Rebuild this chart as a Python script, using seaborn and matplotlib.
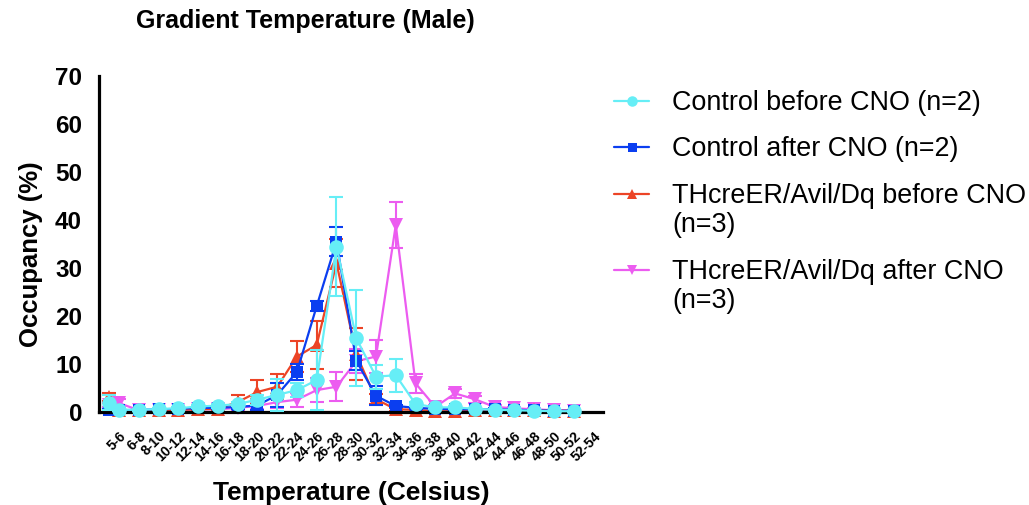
import numpy as np
import pandas as pd
import matplotlib
matplotlib.use("Agg")
import matplotlib.pyplot as plt
import seaborn as sns
from matplotlib.lines import Line2D

# ---------------- data ----------------
temp_labels = ["5-6", "6-8", "8-10", "10-12", "12-14", "14-16", "16-18", "18-20",
               "20-22", "22-24", "24-26", "26-28", "28-30", "30-32", "32-34", "34-36",
               "36-38", "38-40", "40-42", "42-44", "44-46", "46-48", "48-50", "50-52",
               "52-54"]

series_names = ["Control before CNO (n=2)", "Control after CNO (n=2)",
                "THcreER/Avil/Dq before CNO\n(n=3)", "THcreER/Avil/Dq after CNO\n(n=3)"]

ctrl_before_mean = [1.9, 0.4, 0.4, 0.55, 0.7, 1.1, 1.25, 1.6, 2.5, 3.5, 4.5, 6.6, 34.4,
                    15.3, 7.3, 7.6, 1.6, 0.9, 0.9, 0.6, 0.4, 0.3, 0.2, 0.1, 0.1]
ctrl_before_sem = [1.5, 0.2, 0.2, 0.2, 0.3, 0.3, 0.4, 0.5, 1.0, 3.4, 1.5, 6.2, 10.3,
                   10.0, 2.5, 3.4, 0.5, 0.3, 0.3, 0.2, 0.2, 0.1, 0.1, 0.1, 0.1]

ctrl_after_mean = [0.3, 0.3, 0.4, 0.5, 0.6, 0.8, 0.8, 1.0, 1.3, 3.5, 8.3, 22.0, 35.4,
                   10.6, 3.3, 1.2, 0.8, 0.6, 0.5, 0.5, 0.5, 0.4, 0.3, 0.2, 0.2]
ctrl_after_sem = [0.3, 0.2, 0.2, 0.2, 0.2, 0.3, 0.3, 0.5, 1.0, 2.5, 1.7, 1.0, 3.0,
                  2.0, 2.0, 0.3, 0.2, 0.2, 0.2, 0.2, 0.2, 0.1, 0.1, 0.1, 0.1]

dq_before_mean = [3.0, 0.3, 0.3, 0.3, 0.4, 0.5, 0.6, 2.0, 4.1, 5.2, 11.5, 13.9, 31.0,
                  12.0, 2.6, 0.5, 0.4, 0.1, 0.1, 0.3, 0.3, 0.3, 0.3, 0.2, 0.2]
dq_before_sem = [0.8, 0.2, 0.2, 0.2, 0.3, 0.3, 0.5, 1.5, 2.5, 2.6, 3.2, 5.0, 5.0,
                 5.4, 1.0, 0.3, 0.2, 0.1, 0.1, 0.2, 0.2, 0.1, 0.1, 0.1, 0.1]

dq_after_mean = [1.5, 1.8, 0.3, 0.3, 0.4, 0.5, 0.5, 0.8, 1.2, 2.0, 2.5, 4.5, 5.2,
                 10.5, 11.5, 38.9, 5.9, 1.0, 3.8, 2.6, 1.0, 0.7, 0.5, 0.3, 0.2]
dq_after_sem = [0.5, 0.8, 0.2, 0.2, 0.2, 0.2, 0.3, 0.4, 0.6, 1.2, 1.5, 2.5, 3.0,
                2.5, 3.5, 4.7, 2.0, 0.5, 1.0, 0.7, 0.4, 0.3, 0.2, 0.1, 0.1]

colors = ["#66EEF6", "#0B3EF0", "#EC4426", "#EC5CF0"]
markers = ["o", "s", "^", "v"]
msizes = [10.5, 9, 9.5, 9.5]

means = [ctrl_before_mean, ctrl_after_mean, dq_before_mean, dq_after_mean]
sems = [ctrl_before_sem, ctrl_after_sem, dq_before_sem, dq_after_sem]

# ---------------- figure ----------------
sns.set_style("white")
plt.rcParams["font.family"] = ["Liberation Sans", "DejaVu Sans"]
plt.rcParams.update({"text.color": "black", "axes.labelcolor": "black",
                     "xtick.color": "black", "ytick.color": "black",
                     "axes.edgecolor": "black"})

W, H = 1029, 505
fig = plt.figure(figsize=(W / 100, H / 100), dpi=100)
ax = fig.add_axes([99.3 / W, (H - 411.7) / H, 504 / W, 336 / H])

n = len(ctrl_before_mean)
# first bin sits half a step before the first labelled tick (as in the original)
pos = np.concatenate([[-0.5], np.arange(n - 1)])

frames = []
for name, m in zip(series_names, means):
    frames.append(pd.DataFrame({"pos": pos, "value": m, "series": name}))
df = pd.concat(frames, ignore_index=True)

draw_order = series_names[::-1]  # cyan drawn last -> on top
palette = dict(zip(series_names, colors))
marker_map = dict(zip(series_names, markers))
size_map = dict(zip(series_names, msizes))

# error bars
for k, name in enumerate(draw_order):
    i = series_names.index(name)
    ax.errorbar(pos, means[i], yerr=sems[i], fmt="none", ecolor=colors[i],
                elinewidth=1.5, capsize=5, capthick=1.5, clip_on=False,
                zorder=2 + k * 0.2)

# lines + markers via seaborn
for k, name in enumerate(draw_order):
    sub = df[df["series"] == name]
    sns.lineplot(data=sub, x="pos", y="value", color=palette[name],
                 marker=marker_map[name], markersize=size_map[name],
                 markeredgewidth=0, linewidth=1.6, estimator=None, sort=False,
                 legend=False, ax=ax, clip_on=False, zorder=2.1 + k * 0.2)

ax.set_xlim(-1.0, 24.5)
ax.set_ylim(0, 70)
sns.despine(ax=ax)
for sp in ["left", "bottom"]:
    ax.spines[sp].set_linewidth(2.3)
    ax.spines[sp].set_color("black")

ax.set_xticks(np.arange(len(temp_labels)))
ax.set_xticklabels(temp_labels, rotation=45, ha="right", rotation_mode="anchor",
                   fontsize=10, fontweight="bold")
ax.set_yticks(np.arange(0, 71, 10))
ax.set_yticklabels([str(v) for v in range(0, 71, 10)], fontsize=17.5, fontweight="bold")
ax.tick_params(axis="both", direction="out", length=9.4, width=2.3, color="black")
ax.tick_params(axis="y", pad=3)
ax.tick_params(axis="x", pad=3)

ax.set_xlabel("Temperature (Celsius)", fontsize=19, fontweight="bold")
ax.set_ylabel("Occupancy (%)", fontsize=18.5, fontweight="bold")
ax.xaxis.set_label_coords(0.5, -0.205)
ax.xaxis.label.set_va("top")
ax.yaxis.set_label_coords(-0.112, 0.47)

fig.text(305 / W, 1 - 21 / H, "Gradient Temperature (Male)", fontsize=18,
         fontweight="bold", ha="center", va="center")

handles = [Line2D([], [], color=c, marker=mk, markersize=ms * 0.72, linewidth=1.6,
                  markeredgewidth=0) for c, mk, ms in zip(colors, markers, msizes)]
leg = fig.legend(handles, series_names, loc="upper left",
                 bbox_to_anchor=(614 / W, 1 - 90 / H), frameon=False, fontsize=19.4,
                 handlelength=1.3, handletextpad=0.85, labelspacing=0.76,
                 handleheight=1.05, borderpad=0, borderaxespad=0)
for t in leg.get_texts():
    t.set_linespacing(1.17)
# align each handle with the first line of its label
for col in leg._legend_handle_box.get_children():
    for row in col.get_children():
        row.align = "top"

fig.savefig("out.png", dpi=100, facecolor="white")
